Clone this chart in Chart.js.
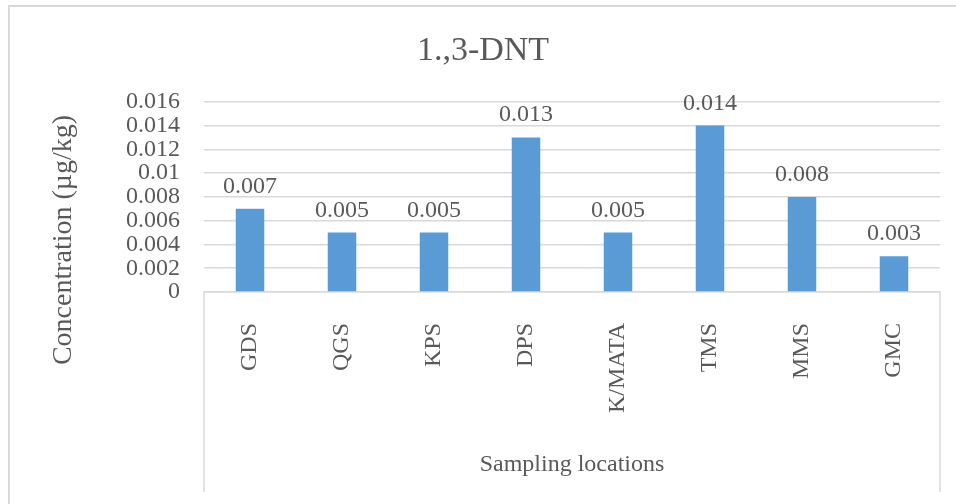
<!DOCTYPE html>
<html lang="en">
<head>
    <meta charset="UTF-8">
    <title>1.,3-DNT</title>
    <script src="https://cdn.jsdelivr.net/npm/chart.js"></script>
    <style>
        html, body { margin: 0; padding: 0; background: #fff; }
        #wrap { width: 956px; height: 504px; }
    </style>
</head>
<body>
    <div id="wrap"><canvas id="myChart" width="956" height="504"></canvas></div>

    <script>
        // data
        const locations = ['GDS', 'QGS', 'KPS', 'DPS', 'K/MATA', 'TMS', 'MMS', 'GMC'];
        const concentration = [0.007, 0.005, 0.005, 0.013, 0.005, 0.014, 0.008, 0.003];
        const yTicks = [0, 0.002, 0.004, 0.006, 0.008, 0.01, 0.012, 0.014, 0.016];

        const textColor = '#595959';
        const lineColor = '#D9D9D9';
        const serif = '"Liberation Serif", "Times New Roman", serif';

        // outer border, value labels, axis title and the long edge lines under the axis
        const extras = {
            id: 'extras',
            beforeDraw(chart) {
                const ctx = chart.ctx;
                ctx.save();
                ctx.strokeStyle = lineColor;
                ctx.lineWidth = 2;
                ctx.beginPath();
                ctx.moveTo(9, 504);
                ctx.lineTo(9, 6);
                ctx.lineTo(956, 6);
                ctx.stroke();
                ctx.restore();
            },
            afterDraw(chart) {
                const ctx = chart.ctx;
                const area = chart.chartArea;
                const xs = chart.scales.x;
                ctx.save();
                ctx.strokeStyle = lineColor;
                ctx.lineWidth = 1.5;
                ctx.beginPath();
                ctx.moveTo(area.left, area.bottom);
                ctx.lineTo(area.left, xs.bottom);
                ctx.moveTo(area.right, area.bottom);
                ctx.lineTo(area.right, xs.bottom);
                ctx.stroke();

                // value labels
                ctx.fillStyle = textColor;
                ctx.font = '24px ' + serif;
                ctx.textAlign = 'center';
                ctx.textBaseline = 'alphabetic';
                chart.getDatasetMeta(0).data.forEach((bar, i) => {
                    ctx.fillText(concentration[i].toFixed(3), bar.x, bar.y - 16);
                });

                // y axis title
                ctx.font = '28px ' + serif;
                ctx.textBaseline = 'middle';
                ctx.translate(64, area.bottom - 52);
                ctx.rotate(-Math.PI / 2);
                ctx.fillText('Concentration (µg/kg)', 0, 0);
                ctx.restore();
            }
        };

        const data = {
            labels: locations,
            datasets: [{
                data: concentration,
                backgroundColor: '#5B9BD5',
                borderWidth: 0,
                categoryPercentage: 1,
                barPercentage: 0.31
            }]
        };

        const config = {
            type: 'bar',
            data: data,
            plugins: [extras],
            options: {
                responsive: false,
                animation: false,
                layout: { padding: { left: 26, right: 16, top: 5, bottom: 12 } },
                plugins: {
                    legend: { display: false },
                    tooltip: { enabled: false },
                    title: {
                        display: true,
                        text: '1.,3-DNT',
                        color: textColor,
                        font: { family: serif, size: 34, weight: 'normal' },
                        padding: { top: 26, bottom: 30 }
                    }
                },
                scales: {
                    x: {
                        grid: { display: false },
                        border: { color: lineColor, width: 1.5 },
                        ticks: {
                            color: textColor,
                            font: { family: serif, size: 24 },
                            minRotation: 90,
                            maxRotation: 90,
                            padding: 23
                        },
                        title: {
                            display: true,
                            text: 'Sampling locations',
                            color: textColor,
                            font: { family: serif, size: 24 },
                            padding: { top: 0, bottom: 13 }
                        },
                        afterFit(scale) { scale.height = 200; }
                    },
                    y: {
                        min: 0,
                        max: 0.016,
                        afterBuildTicks(scale) {
                            scale.ticks = yTicks.map(v => ({ value: v }));
                        },
                        grid: { color: lineColor, lineWidth: 1.5, drawTicks: false },
                        border: { display: false },
                        ticks: {
                            color: textColor,
                            font: { family: serif, size: 24 },
                            padding: 24,
                            autoSkip: false,
                            callback: v => String(+v.toFixed(3))
                        },
                        afterFit(scale) { scale.width = 178; }
                    }
                }
            }
        };

        const myChart = new Chart(document.getElementById('myChart'), config);
    </script>
</body>
</html>
